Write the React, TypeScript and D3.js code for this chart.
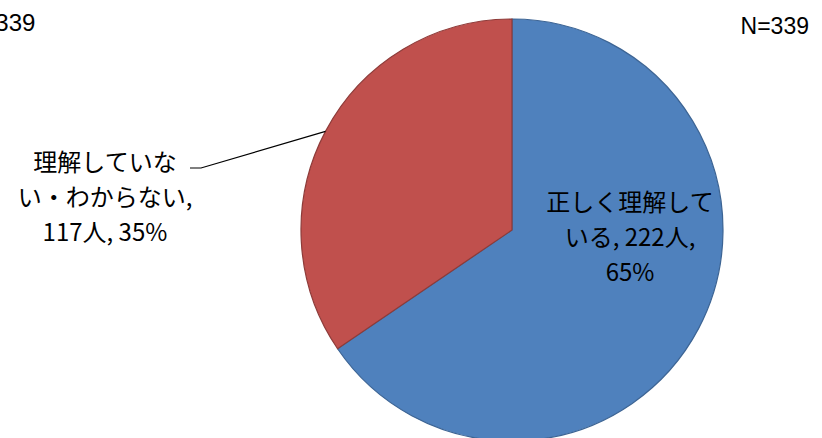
import { useEffect } from "react";
import * as d3 from "d3";

// 回答データ
const categories = ["正しく理解している", "理解していない・わからない"];
const counts = [222, 117];
const percents = [65, 35];
const labelLines = [
  ["正しく理解して", "いる, 222人,", "65%"],
  ["理解していな", "い・わからない,", "117人, 35%"],
];
const totalLabel = "N=339";

const fills = ["#4F81BD", "#C0504D"];
const strokes = ["#3C6494", "#8E3B39"];

const width = 822;
const height = 438;
const cx = 512;
const cy = 230;
const radius = 211;

export default function App() {
  useEffect(() => {
    document.body.style.margin = "0";
  }, []);

  const slices = d3
    .pie<number>()
    .sort(null)
    .value((d) => d)(counts);

  const arc = d3.arc<d3.PieArcDatum<number>>().innerRadius(0).outerRadius(radius);

  // ラベル位置（右:スライス内、左:引き出し線付き）
  const labelPos = [
    { x: cx + 118, y: 200 },
    { x: 105, y: 160 },
  ];
  const lineH = 35;

  // 引き出し線: 赤スライスの中央角の外周点へ
  const redMid = (slices[1].startAngle + slices[1].endAngle) / 2;
  const edge = [
    cx + radius * Math.sin(redMid),
    cy - radius * Math.cos(redMid),
  ];
  const leader = d3.line()([
    [190, 168],
    [201, 168],
    [edge[0], edge[1]],
  ]);

  const font = "'Noto Sans CJK JP', 'Noto Sans', sans-serif";

  return (
    <svg width={width} height={height} style={{ display: "block" }}>
      <rect width={width} height={height} fill="#ffffff" />
      <g transform={`translate(${cx},${cy})`}>
        {slices.map((s, i) => (
          <path
            key={categories[i]}
            d={arc(s) || ""}
            fill={fills[i]}
            stroke={strokes[i]}
            strokeWidth={1.2}
          />
        ))}
      </g>
      <path d={leader || ""} fill="none" stroke="#000" strokeWidth={1.2} />
      {labelLines.map((lines, i) => (
        <text
          key={categories[i]}
          textAnchor="middle"
          fontFamily={font}
          fontSize={24}
          fill="#000"
          data-pct={percents[i]}
        >
          {lines.map((l, j) => (
            <tspan
              key={j}
              x={labelPos[i].x}
              y={labelPos[i].y + j * lineH}
              dominantBaseline="central"
            >
              {l}
            </tspan>
          ))}
        </text>
      ))}
      <text
        x={-36}
        y={31}
        fontFamily="'Liberation Sans', Arial, sans-serif"
        fontSize={24}
        fill="#000"
      >
        {totalLabel}
      </text>
      <text
        x={809}
        y={34}
        textAnchor="end"
        fontFamily="'Liberation Sans', Arial, sans-serif"
        fontSize={23}
        fill="#000"
      >
        {totalLabel}
      </text>
    </svg>
  );
}
